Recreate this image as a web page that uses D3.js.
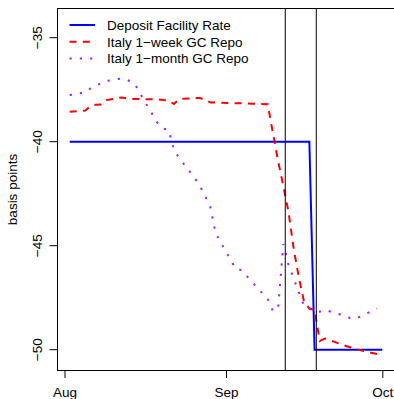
<!DOCTYPE html>
<html>
<head>
<meta charset="utf-8">
<script src="https://cdn.jsdelivr.net/npm/d3@7"></script>
<style>
body { margin: 0; background: #fff; }
svg { display: block; }
text { font-family: "Liberation Sans", Arial, sans-serif; font-size: 13.5px; fill: #000; }
</style>
</head>
<body>
<script>
// ECB deposit facility rate vs Italian GC repo, Aug-Sep 2019 (basis points)
var dfrDates = ["2019-08-02", "2019-09-17", "2019-09-18", "2019-10-01"];
var dfrValues = [-40, -40, -50, -50];

var weekDates = ["2019-08-02", "2019-08-05", "2019-08-06", "2019-08-07", "2019-08-08", "2019-08-09",
  "2019-08-12", "2019-08-13", "2019-08-14", "2019-08-15", "2019-08-16", "2019-08-19", "2019-08-20",
  "2019-08-21", "2019-08-22", "2019-08-23", "2019-08-26", "2019-08-27", "2019-08-28", "2019-08-29",
  "2019-08-30", "2019-09-02", "2019-09-03", "2019-09-04", "2019-09-05", "2019-09-06", "2019-09-09",
  "2019-09-10", "2019-09-11", "2019-09-12", "2019-09-13", "2019-09-14", "2019-09-15", "2019-09-16",
  "2019-09-17", "2019-09-18", "2019-09-19", "2019-09-20", "2019-09-23", "2019-09-24", "2019-09-25",
  "2019-09-26", "2019-09-27", "2019-09-30"];
var weekValues = [-38.56, -38.50, -38.28, -38.22, -38.21, -38.00,
  -37.87, -37.92, -37.95, -37.95, -37.95, -37.97, -38.00,
  -38.02, -38.19, -37.95, -37.90, -37.90, -38.00, -38.11,
  -38.12, -38.14, -38.15, -38.15, -38.16, -38.17, -38.20,
  -39.58, -40.93, -42.13, -43.38, -45.16, -46.55, -47.71,
  -48.02, -48.09, -49.58, -49.46, -49.73, -49.82, -49.89,
  -49.97, -50.04, -50.21];

var monthDates = ["2019-08-02", "2019-08-05", "2019-08-06", "2019-08-07", "2019-08-08", "2019-08-09",
  "2019-08-12", "2019-08-13", "2019-08-14", "2019-08-15", "2019-08-16", "2019-08-19", "2019-08-20",
  "2019-08-21", "2019-08-22", "2019-08-23", "2019-08-26", "2019-08-27", "2019-08-28", "2019-08-29",
  "2019-08-30", "2019-09-02", "2019-09-03", "2019-09-04", "2019-09-05", "2019-09-06", "2019-09-09",
  "2019-09-10", "2019-09-11", "2019-09-12", "2019-09-13", "2019-09-16", "2019-09-17", "2019-09-18",
  "2019-09-19", "2019-09-20", "2019-09-23", "2019-09-24", "2019-09-25", "2019-09-26", "2019-09-27",
  "2019-09-30"];
var monthValues = [-37.76, -37.63, -37.44, -37.32, -37.18, -37.08,
  -36.96, -37.03, -37.13, -37.42, -37.90, -39.15, -39.37,
  -39.44, -40.40, -40.78, -41.75, -42.13, -42.61, -43.14,
  -44.39, -45.74, -46.14, -46.17, -46.46, -46.75, -47.56,
  -48.14, -48.00, -44.92, -45.93, -47.90, -48.03, -48.14,
  -48.17, -48.09, -48.31, -48.43, -48.48, -48.51, -48.38,
  -48.02];

// ECB announcement and DFR cut
var eventTimes = ["2019-09-12 09:00", "2019-09-18 08:00"];

var xTickDates = ["2019-08-01", "2019-09-01", "2019-10-01"];
var xTickLabels = ["Aug", "Sep", "Oct"];
var yTicks = [-50, -45, -40, -35];

var seriesNames = ["Deposit Facility Rate", "Italy 1\u2212week GC Repo", "Italy 1\u2212month GC Repo"];

var width = 394, height = 399;
var box = {left: 57.5, right: 395, top: 8.5, bottom: 370.5};

var parseDay = d3.utcParse("%Y-%m-%d"),
    parseTime = d3.utcParse("%Y-%m-%d %H:%M");

var x = d3.scaleUtc()
    .domain([parseDay("2019-08-01"), parseDay("2019-10-01")])
    .range([64.5, 382.3]);

var y = d3.scaleLinear()
    .domain([-50, -35])
    .range([349.7, 37.7]);

function zip(ds, vs) {
  return ds.map(function(d, i) { return {date: parseDay(d), value: vs[i]}; });
}

var series = [
  {name: seriesNames[0], data: zip(dfrDates, dfrValues), color: "#0000ff", dash: null},
  {name: seriesNames[1], data: zip(weekDates, weekValues), color: "#ff0000", dash: "7,6.3"},
  {name: seriesNames[2], data: zip(monthDates, monthValues), color: "#a020f0", dash: "2.2,8.1"}
];

var line = d3.line()
    .x(function(d) { return x(d.date); })
    .y(function(d) { return y(d.value); });

var svg = d3.select("body").append("svg")
    .attr("width", width)
    .attr("height", height);

svg.append("clipPath")
    .attr("id", "plotclip")
  .append("rect")
    .attr("x", box.left)
    .attr("y", box.top)
    .attr("width", box.right - box.left)
    .attr("height", box.bottom - box.top);

var plot = svg.append("g").attr("clip-path", "url(#plotclip)");

plot.selectAll(".series")
    .data(series)
  .enter().append("path")
    .attr("class", "series")
    .attr("d", function(d) { return line(d.data); })
    .attr("fill", "none")
    .attr("stroke", function(d) { return d.color; })
    .attr("stroke-width", 2)
    .attr("stroke-dasharray", function(d) { return d.dash; });

plot.selectAll(".event")
    .data(eventTimes)
  .enter().append("line")
    .attr("class", "event")
    .attr("x1", function(d) { return x(parseTime(d)); })
    .attr("x2", function(d) { return x(parseTime(d)); })
    .attr("y1", box.top)
    .attr("y2", box.bottom)
    .attr("stroke", "#000")
    .attr("stroke-width", 1);

// plot frame
svg.append("rect")
    .attr("x", box.left)
    .attr("y", box.top)
    .attr("width", box.right - box.left)
    .attr("height", box.bottom - box.top)
    .attr("fill", "none")
    .attr("stroke", "#000")
    .attr("stroke-width", 1);

// x axis
var xAxis = d3.axisBottom(x)
    .tickValues(xTickDates.map(parseDay))
    .tickFormat(function(d, i) { return xTickLabels[i]; })
    .tickSize(7.5)
    .tickSizeOuter(0)
    .tickPadding(9);

var gx = svg.append("g")
    .attr("transform", "translate(0," + box.bottom + ")")
    .call(xAxis);
gx.select(".domain").remove();
gx.selectAll("text").attr("font-family", null).attr("font-size", null);

// y axis, labels parallel to the axis as in base R
var gy = svg.append("g");
gy.selectAll(".ytick")
    .data(yTicks)
  .enter().append("line")
    .attr("x1", box.left - 8)
    .attr("x2", box.left)
    .attr("y1", function(d) { return y(d); })
    .attr("y2", function(d) { return y(d); })
    .attr("stroke", "#000");

gy.selectAll(".ylabel")
    .data(yTicks)
  .enter().append("text")
    .attr("text-anchor", "middle")
    .attr("transform", function(d) { return "translate(42," + y(d) + ") rotate(-90)"; })
    .text(d3.format("d"));

svg.append("text")
    .attr("text-anchor", "middle")
    .attr("transform", "translate(17," + ((box.top + box.bottom) / 2) + ") rotate(-90)")
    .text("basis points");

// legend
var legend = svg.selectAll(".legend")
    .data(series)
  .enter().append("g")
    .attr("class", "legend")
    .attr("transform", function(d, i) { return "translate(0," + (25 + i * 16.7) + ")"; });

legend.append("line")
    .attr("x1", 69.5)
    .attr("x2", 95)
    .attr("stroke", function(d) { return d.color; })
    .attr("stroke-width", 2)
    .attr("stroke-dasharray", function(d) { return d.dash; });

legend.append("text")
    .attr("x", 107)
    .attr("y", 5)
    .text(function(d) { return d.name; });
</script>
</body>
</html>
